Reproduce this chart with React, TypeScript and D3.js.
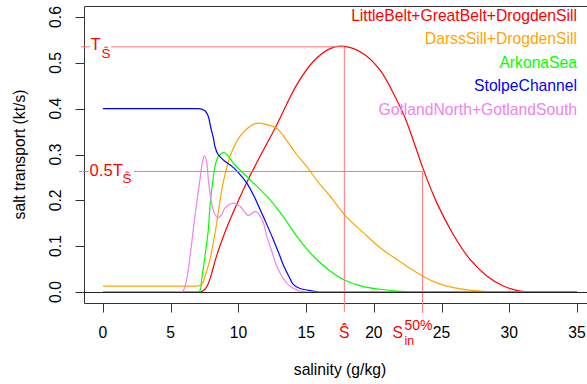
import React from "react";
import * as d3 from "d3";

// ---- data ----
const xTicks = [0, 5, 10, 15, 20, 25, 30, 35];
const xTickLabels = ["0", "5", "10", "15", "20", "25", "30", "35"];
const yTicks = [0, 0.1, 0.2, 0.3, 0.4, 0.5, 0.6];
const yTickLabels = ["0.0", "0.1", "0.2", "0.3", "0.4", "0.5", "0.6"];

const seriesNames = [
  "LittleBelt+GreatBelt+DrogdenSill",
  "DarssSill+DrogdenSill",
  "ArkonaSea",
  "StolpeChannel",
  "GotlandNorth+GotlandSouth",
];
const seriesColors = ["#FF0000", "#FFA500", "#00FF00", "#0000FF", "#EE82EE"];

const beltS = [0, 3, 6, 6.8, 7.2, 7.53, 7.8, 8.0, 8.4, 9.0, 9.6, 10.6, 11.6, 12.58, 13.07, 14.3, 15.53, 16.77, 17.8, 19.23, 20.46, 21.69, 22.3, 22.92, 23.66, 24.64, 25.87, 27.1, 28.34, 29.56, 30.8, 31.5, 32.5, 35];
const beltT = [0, 0, 0, 0, 0, 0.006, 0.02, 0.038, 0.08, 0.13, 0.173, 0.238, 0.296, 0.35, 0.379, 0.452, 0.503, 0.531, 0.536, 0.52, 0.484, 0.419, 0.38, 0.33, 0.267, 0.195, 0.125, 0.071, 0.035, 0.013, 0.002, 0, 0, 0];

const darssS = [0, 3, 6, 6.7, 7.0, 7.29, 7.6, 7.9, 8.15, 8.4, 8.77, 9.0, 9.38, 10.1, 10.7, 11.35, 12.0, 12.83, 13.5, 14.3, 15.04, 15.8, 16.77, 17.82, 19.23, 20.46, 21.69, 23.58, 24.64, 25.87, 27.1, 28.3, 29.5, 31, 35];
const darssT = [0.013, 0.013, 0.013, 0.013, 0.013, 0.0167, 0.04, 0.071, 0.108, 0.151, 0.223, 0.255, 0.296, 0.339, 0.358, 0.368, 0.366, 0.357, 0.333, 0.3, 0.274, 0.243, 0.209, 0.169, 0.129, 0.0965, 0.071, 0.035, 0.02, 0.0095, 0.004, 0.001, 0, 0, 0];

const arkonaS = [0, 3, 6, 6.6, 6.9, 7.16, 7.29, 7.53, 7.78, 7.9, 8.15, 8.27, 8.52, 8.94, 9.3, 9.62, 10.86, 12.09, 13.3, 14.3, 15.53, 16.77, 17.82, 19.23, 20.46, 21.7, 23, 25, 35];
const arkonaT = [0, 0, 0, 0, 0, 0.003, 0.028, 0.078, 0.136, 0.187, 0.252, 0.274, 0.296, 0.304, 0.295, 0.281, 0.245, 0.209, 0.165, 0.122, 0.078, 0.0457, 0.026, 0.0117, 0.006, 0.002, 0, 0, 0];

const stolpeS = [0, 3, 6, 6.7, 7.0, 7.29, 7.55, 7.78, 7.95, 8.15, 8.27, 8.5, 8.89, 9.62, 10.12, 10.61, 11.1, 11.6, 12.1, 12.58, 13.07, 13.3, 13.8, 14.05, 14.55, 15.5, 16, 18, 35];
const stolpeT = [0.4, 0.4, 0.4, 0.4, 0.4, 0.399, 0.395, 0.383, 0.36, 0.336, 0.317, 0.3, 0.288, 0.272, 0.256, 0.238, 0.212, 0.18, 0.147, 0.114, 0.078, 0.06, 0.03, 0.0167, 0.0075, 0.002, 0, 0, 0];

const gotlandS = [0, 3, 5.0, 5.5, 5.7, 5.93, 6.18, 6.43, 6.67, 6.92, 7.16, 7.29, 7.48, 7.65, 7.78, 8.02, 8.27, 8.52, 8.75, 9.0, 9.63, 10.12, 10.73, 11.23, 11.5, 11.84, 12.09, 12.45, 12.83, 13.3, 13.8, 14.5, 15, 17, 35];
const gotlandT = [0, 0, 0, 0, 0, 0.003, 0.028, 0.078, 0.136, 0.194, 0.245, 0.274, 0.297, 0.285, 0.245, 0.194, 0.169, 0.162, 0.168, 0.183, 0.194, 0.187, 0.167, 0.176, 0.17, 0.151, 0.122, 0.09, 0.0565, 0.03, 0.013, 0.002, 0, 0, 0];

const seriesS = [beltS, darssS, arkonaS, stolpeS, gotlandS];
const seriesT = [beltT, darssT, arkonaT, stolpeT, gotlandT];

const sHat = 17.82;
const tHat = 0.535;
const sIn50 = 23.6;
const tHalf = 0.263;

const FONT = "'Liberation Sans', Arial, Helvetica, sans-serif";
const FS = 15.7;
const ANNO_LINE = "#FF7474";

export default function App() {
  const W = 587;
  const H = 384;
  const x = d3.scaleLinear().domain([-1.4, 36.4]).range([84, 596]);
  const y = d3.scaleLinear().domain([-0.024, 0.624]).range([303, 6]);
  const line = d3
    .line<[number, number]>()
    .x((d) => x(d[0]))
    .y((d) => y(d[1]))
    .curve(d3.curveCatmullRom.alpha(0.5));

  const left = 84.5;
  const top = 6.5;
  const bottom = 303.5;
  const axisCol = "#333";

  const yHat = y(tHat);
  const yHalf = y(tHalf);
  const xHat = x(sHat);
  const xIn = x(sIn50);

  return (
    <svg
      width={W}
      height={H}
      viewBox={`0 0 ${W} ${H}`}
      style={{ position: "absolute", left: 0, top: 0, background: "#fff" }}
      fontFamily={FONT}
    >
      <rect x={0} y={0} width={W} height={H} fill="#fff" />
      {/* box */}
      <path d={`M${W},${top}H${left}V${bottom}H${W}`} fill="none" stroke={axisCol} strokeWidth={1} />
      {/* x ticks */}
      {xTicks.map((t, i) => (
        <g key={"xt" + i}>
          <line x1={Math.round(x(t)) + 0.5} x2={Math.round(x(t)) + 0.5} y1={bottom} y2={312.5} stroke={axisCol} />
          <text x={x(t)} y={338} fontSize={FS} textAnchor="middle" fill="#000">
            {xTickLabels[i]}
          </text>
        </g>
      ))}
      {/* y ticks */}
      {yTicks.map((t, i) => (
        <g key={"yt" + i}>
          <line x1={left} x2={75.5} y1={Math.round(y(t)) + 0.5} y2={Math.round(y(t)) + 0.5} stroke={axisCol} />
          <text transform={`translate(61,${y(t)}) rotate(-90)`} fontSize={FS} textAnchor="middle" fill="#000">
            {yTickLabels[i]}
          </text>
        </g>
      ))}
      {/* axis titles */}
      <text x={340} y={375} fontSize={FS} textAnchor="middle" fill="#000">
        salinity (g/kg)
      </text>
      <text transform={`translate(25,154.5) rotate(-90)`} fontSize={FS} textAnchor="middle" fill="#000">
        salt transport (kt/s)
      </text>

      {/* curves */}
      {seriesS.map((sArr, i) => (
        <path
          key={"c" + i}
          d={line(sArr.map((s, j) => [s, seriesT[i][j]] as [number, number])) || ""}
          fill="none"
          stroke={seriesColors[i]}
          strokeWidth={1.2}
        />
      ))}

      {/* annotation lines */}
      <line x1={81} x2={xHat} y1={yHat} y2={yHat} stroke={ANNO_LINE} strokeWidth={1} />
      <line x1={79} x2={xIn} y1={yHalf} y2={yHalf} stroke={ANNO_LINE} strokeWidth={1} />
      <line x1={xHat} x2={xHat} y1={yHat} y2={312} stroke={ANNO_LINE} strokeWidth={1} />
      <line x1={xIn} x2={xIn} y1={yHalf} y2={313} stroke={ANNO_LINE} strokeWidth={1} />

      {/* zero line */}
      <line x1={left} x2={W} y1={Math.round(y(0)) + 0.5} y2={Math.round(y(0)) + 0.5} stroke="#222" strokeWidth={1} />

      {/* T-hat label */}
      <rect x={90} y={36} width={21} height={24} fill="#fff" />
      <text x={90.5} y={50} fontSize={FS + 1} fill="#FF0000">
        T<tspan x={101.5} y={58.3} fontSize={13.5}>Ŝ</tspan>
      </text>

      {/* 0.5 T-hat label */}
      <rect x={88.5} y={160} width={45.5} height={25} fill="#fff" />
      <text x={89.5} y={175.7} fontSize={FS + 1} fill="#FF0000">
        0.5T<tspan x={122.5} y={183.3} fontSize={13.5}>Ŝ</tspan>
      </text>

      {/* S-hat axis label */}
      <text x={xHat} y={338.3} fontSize={FS} textAnchor="middle" fill="#FF0000">
        Ŝ
      </text>

      {/* S_in^50% axis label */}
      <text x={392.5} y={338.3} fontSize={FS} fill="#FF0000">
        S<tspan x={404.5} y={345} fontSize={12.5}>in</tspan>
        <tspan x={404.5} y={330} fontSize={14}>50%</tspan>
      </text>

      {/* legend */}
      {seriesNames.map((n, i) => (
        <text key={"lg" + i} x={577} y={20.6 + i * 23.6} fontSize={FS} textAnchor="end" fill={seriesColors[i]}>
          {n}
        </text>
      ))}
    </svg>
  );
}
